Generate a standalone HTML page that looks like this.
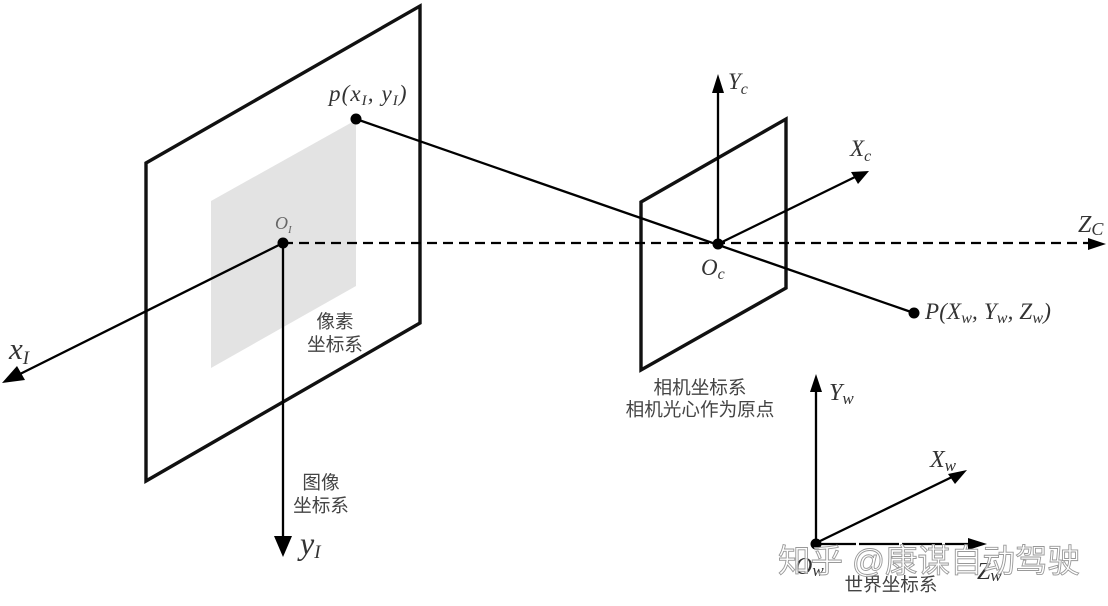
<!DOCTYPE html>
<html><head><meta charset="utf-8"><style>
html,body{margin:0;padding:0;background:#fff;width:1108px;height:606px;overflow:hidden}
svg{display:block}
.m{font-family:"Liberation Serif",serif;font-style:italic;fill:#333}
.c{font-family:"Liberation Sans","Noto Sans CJK SC",sans-serif;fill:#444;font-size:18.6px;text-anchor:middle}
.l{stroke:#000;stroke-width:2.3;fill:none}
.f{stroke:#111;stroke-width:3.4;fill:none;stroke-linejoin:miter}
</style></head><body>
<svg width="1108" height="606" viewBox="0 0 1108 606" xmlns="http://www.w3.org/2000/svg">
<polygon points="211,201 356,120 356,286 211,368" fill="#e3e3e3"/>
<polygon class="f" points="146,163 420,6 420,323 146,481"/>
<polygon class="f" points="641,202 786,119 786,288 641,370"/>

<line class="l" x1="283" y1="243" x2="1092" y2="243" stroke-dasharray="10 6"/>
<line class="l" x1="356" y1="119" x2="914" y2="313"/>
<line class="l" x1="283" y1="243" x2="20" y2="374"/>
<line class="l" x1="283" y1="243" x2="283" y2="540"/>
<line class="l" x1="718" y1="244" x2="718" y2="90"/>
<line class="l" x1="718" y1="244" x2="855" y2="177"/>
<line class="l" x1="816" y1="543" x2="816" y2="390"/>
<line class="l" x1="816" y1="543" x2="952" y2="477"/>
<line class="l" x1="816" y1="544" x2="972" y2="544" stroke-dasharray="40 3"/>

<polygon points="2,383 17,366 25,380" fill="#000"/>
<polygon points="283,557 274,536 292,536" fill="#000"/>
<polygon points="718,74 712,93 724,93" fill="#000"/>
<polygon points="869,171 851,172 858,184" fill="#000"/>
<polygon points="1106,244 1088,238 1088,250" fill="#000"/>
<polygon points="816,374 810,392 822,392" fill="#000"/>
<polygon points="967,470 948,474 955,484" fill="#000"/>
<polygon points="987,544 968,538 968,550" fill="#000"/>

<circle cx="283" cy="243" r="5.5" fill="#000"/>
<circle cx="356" cy="119" r="5.5" fill="#000"/>
<circle cx="718" cy="244" r="5.5" fill="#000"/>
<circle cx="914" cy="313" r="5.5" fill="#000"/>
<circle cx="816" cy="544" r="5.5" fill="#000"/>

<text class="m" x="329" y="101" font-size="23" letter-spacing="1.1">p(x<tspan font-size="15" dy="4">I</tspan><tspan dy="-4">, y</tspan><tspan font-size="15" dy="4">I</tspan><tspan dy="-4">)</tspan></text>
<text class="m" x="275" y="229" font-size="18" style="fill:#666">O<tspan font-size="11" dy="4">I</tspan></text>
<text class="m" x="9" y="359" font-size="31">x<tspan font-size="19" dy="5">I</tspan></text>
<text class="m" x="300" y="554" font-size="32">y<tspan font-size="19" dy="4">I</tspan></text>
<text class="m" x="728" y="89" font-size="23">Y<tspan font-size="16" dy="5">c</tspan></text>
<text class="m" x="850" y="156" font-size="23">X<tspan font-size="16" dy="5">c</tspan></text>
<text class="m" x="1078" y="232" font-size="24">Z<tspan font-size="18" dy="3">C</tspan></text>
<text class="m" x="701" y="275" font-size="23">O<tspan font-size="16" dy="4">c</tspan></text>
<text class="m" x="925" y="319" font-size="23" letter-spacing="0.15">P(X<tspan font-size="16" dy="4">w</tspan><tspan dy="-4">, Y</tspan><tspan font-size="16" dy="4">w</tspan><tspan dy="-4">, Z</tspan><tspan font-size="16" dy="4">w</tspan><tspan dy="-4">)</tspan></text>
<text class="m" x="829" y="400" font-size="24">Y<tspan font-size="17" dy="4">w</tspan></text>
<text class="m" x="930" y="467" font-size="24">X<tspan font-size="17" dy="4">w</tspan></text>
<text class="m" x="795" y="574" font-size="24">O<tspan font-size="17" dy="2">w</tspan></text>
<text class="m" x="977" y="579" font-size="24">Z<tspan font-size="17" dy="2">w</tspan></text>

<text class="c" x="335" y="328">像素</text>
<text class="c" x="335" y="351">坐标系</text>
<text class="c" x="321" y="489">图像</text>
<text class="c" x="321" y="512">坐标系</text>
<text class="c" x="700" y="394">相机坐标系</text>
<text class="c" x="700" y="416">相机光心作为原点</text>
<text class="c" x="891" y="591">世界坐标系</text>

<text x="778" y="572" font-family="'Liberation Sans','Noto Sans CJK SC',sans-serif" font-size="32.5" fill="#fff" fill-opacity="0.75" stroke="#999" stroke-width="0.9">知乎 @康谋自动驾驶</text>
</svg>
</body></html>
